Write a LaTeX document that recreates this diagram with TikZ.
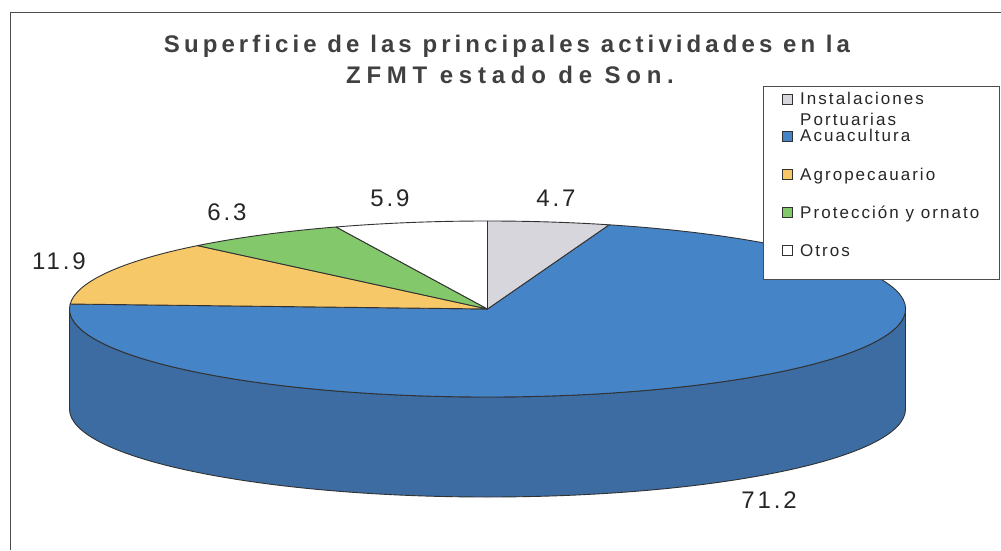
\documentclass[tikz,border=0pt]{standalone}
\usepackage{fontspec}
\setmainfont{Liberation Sans}
\newfontfamily\titlefontA{Liberation Sans Bold}[LetterSpace=17]
\newfontfamily\titlefontB{Liberation Sans Bold}[LetterSpace=24]
\newfontfamily\legfont{Liberation Sans}[LetterSpace=12]
\newfontfamily\labfont{Liberation Sans}[LetterSpace=12]
\definecolor{piegray}{RGB}{214,214,220}
\definecolor{pieblue}{RGB}{70,132,200}
\definecolor{sideblue}{RGB}{60,108,162}
\definecolor{pieyellow}{RGB}{246,200,104}
\definecolor{piegreen}{RGB}{132,200,108}
\definecolor{edgegray}{RGB}{50,50,50}
\definecolor{titlegray}{RGB}{64,64,64}
\begin{document}
\begin{tikzpicture}[x=1pt,y=1pt,
  slice/.style={draw=edgegray, line width=0.9pt, line join=round},
  swatch/.style={draw=edgegray, line width=0.8pt, minimum size=10pt, inner sep=0pt},
  legtext/.style={anchor=base west, inner sep=0pt, font=\legfont\fontsize{17}{19}\selectfont, text=black!85},
  valtext/.style={inner sep=0pt, font=\labfont\fontsize{24}{26}\selectfont, text=black!85},
  titletext/.style={anchor=base, inner sep=0pt, text=titlegray},
  frameline/.style={draw=black!70, line width=0.8pt}]
\useasboundingbox (0,0) rectangle (1001,550);
\fill[white] (0,0) rectangle (1001,550);
% outer frame
\coordinate (fTL) at (10,538);
\coordinate (fTR) at (1001,538);
\coordinate (fBL) at (10,0);
\draw[frameline] (fBL) -- (fTL) -- (fTR);
% title
\node[titletext, font=\titlefontA\fontsize{24}{28}\selectfont] (title1) at (507,497) {Superficie de las principales actividades en la};
\node[titletext, font=\titlefontB\fontsize{24}{28}\selectfont] (title2) at (510,466) {ZFMT estado de Son.};
% pie
\coordinate (O) at (487.5,241);
\path (O) ++(180:418pt and 88pt) coordinate (L);
\filldraw[slice, fill=sideblue] (L) -- ++(0,-100pt)
  arc[start angle=180, end angle=360, x radius=418pt, y radius=88pt]
  -- ++(0,100pt)
  arc[start angle=0, end angle=-180, x radius=418pt, y radius=88pt] -- cycle;
\filldraw[slice, fill=pieblue] (O) -- ++(73.08:418pt and 88pt)
  arc[start angle=73.08, end angle=-183.24, x radius=418pt, y radius=88pt] -- cycle;
\filldraw[slice, fill=piegray] (O) -- ++(90:418pt and 88pt)
  arc[start angle=90, end angle=73.08, x radius=418pt, y radius=88pt] -- cycle;
\filldraw[slice, fill=pieyellow] (O) -- ++(176.76:418pt and 88pt)
  arc[start angle=176.76, end angle=133.92, x radius=418pt, y radius=88pt] -- cycle;
\filldraw[slice, fill=piegreen] (O) -- ++(133.92:418pt and 88pt)
  arc[start angle=133.92, end angle=111.24, x radius=418pt, y radius=88pt] -- cycle;
\filldraw[slice, fill=white] (O) -- ++(111.24:418pt and 88pt)
  arc[start angle=111.24, end angle=90, x radius=418pt, y radius=88pt] -- cycle;
% value labels
\node[valtext] (v47) at (556,352) {4.7};
\node[valtext] (v59) at (390,352) {5.9};
\node[valtext] (v63) at (227,338) {6.3};
\node[valtext] (v119) at (59,289) {11.9};
\node[valtext] (v712) at (769,50) {71.2};
% legend
\node[draw=black!70, fill=white, line width=0.8pt, minimum width=236pt, minimum height=193pt, anchor=north west, inner sep=0pt] (legend) at (763,464) {};
\node[swatch, fill=piegray] (s1) at (787,451) {};
\node[legtext] (t1) at (800,445) {Instalaciones};
\node[legtext] (t1b) at (800,424) {Portuarias};
\node[swatch, fill=pieblue] (s2) at (787,414) {};
\node[legtext] (t2) at (800,408) {Acuacultura};
\node[swatch, fill=pieyellow] (s3) at (787,376) {};
\node[legtext] (t3) at (800,370) {Agropecauario};
\node[swatch, fill=piegreen] (s4) at (787,338) {};
\node[legtext] (t4) at (800,332) {Protección y ornato};
\node[swatch, fill=white] (s5) at (787,300) {};
\node[legtext] (t5) at (800,294) {Otros};
\end{tikzpicture}
\end{document}
